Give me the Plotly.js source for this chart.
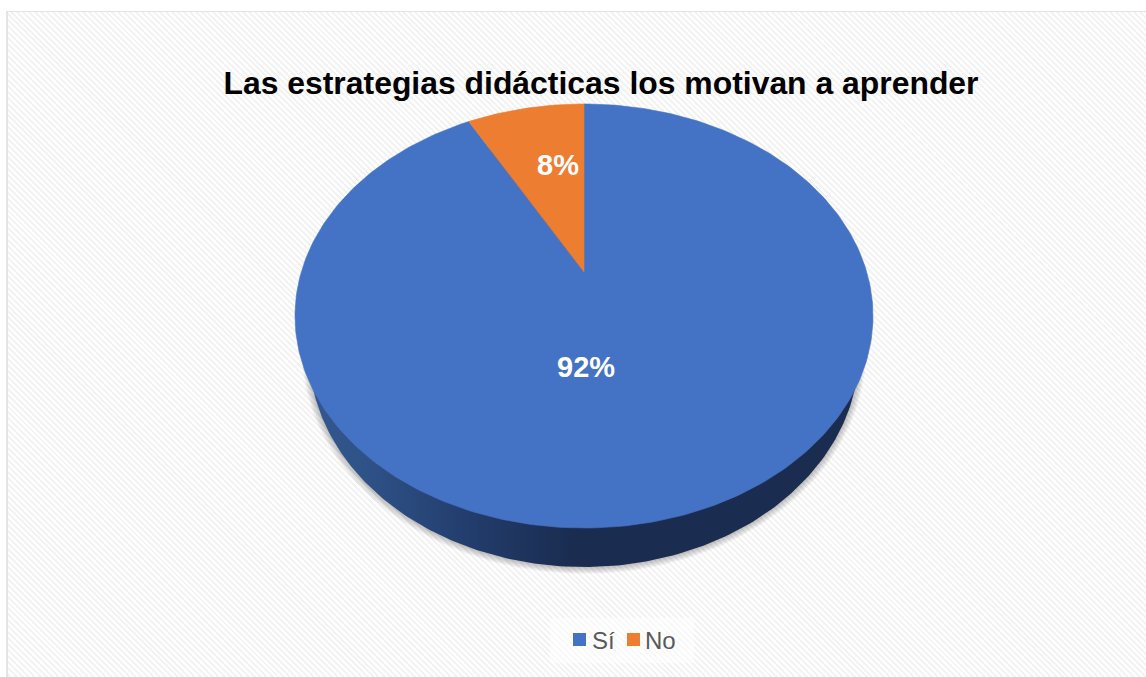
<!DOCTYPE html>
<html><head><meta charset="utf-8">
<script src="https://cdn.plot.ly/plotly-3.0.1.min.js"></script>
<style>
html,body{margin:0;padding:0;background:#fff;width:1146px;height:677px;overflow:hidden}
#frame{position:absolute;left:6px;top:11px;width:1160px;height:690px;border:2px solid #e4e4e4;border-width:1px 0 0 2px;
background:repeating-linear-gradient(45deg,#fff 0,#fff 2.1px,#f3f3f3 2.1px,#f3f3f3 4.2px)}
#chart{position:absolute;left:0;top:0;width:1146px;height:677px}
</style></head><body>
<div id="frame"></div><div id="chart"></div>
<script>
const categories = ['Sí', 'No'];
const values = [92, 8];
const labelText = ['92%', '8%'];
const colors = ['#4472c4', '#ed7d31'];
const titleText = 'Las estrategias didácticas los motivan a aprender';

// perspective view of the pie disc, in pixel-sized axis units
const apexX = 584, apexY = 272, halfW = 282.7, tiltB = 202.9, tiltK = 0.2075;
function project(theta) {           // theta clockwise from 12 o'clock
  const X = Math.sin(theta), Y = Math.cos(theta), d = 1 + tiltK * Y;
  return [apexX + halfW * X / d, apexY - tiltB * Y / d];
}
function slice(fromShare, toShare) {
  const xs = [apexX], ys = [apexY], n = Math.max(6, Math.round((toShare - fromShare) * 360));
  for (let i = 0; i <= n; i++) {
    const p = project(2 * Math.PI * (fromShare + (toShare - fromShare) * i / n));
    xs.push(p[0]); ys.push(p[1]);
  }
  xs.push(apexX); ys.push(apexY);
  return {xs, ys};
}
function ellipse(cx, cy, rx, ry) {
  const xs = [], ys = [];
  for (let i = 0; i <= 360; i++) {
    const a = i * Math.PI / 180;
    xs.push(cx + rx * Math.cos(a)); ys.push(cy + ry * Math.sin(a));
  }
  return {xs, ys};
}

const traces = [];
// soft shadow under the disc
[7, 6, 5, 4, 3, 2, 1].forEach(g => {
  const e = ellipse(584, 352, 275 + g, 215 + g);
  traces.push({type:'scatter', x:e.xs, y:e.ys, mode:'lines', line:{width:0}, fill:'toself',
    fillcolor:'rgba(0,0,0,0.035)', hoverinfo:'skip', showlegend:false});
});
// side wall
const wall = ellipse(584, 352, 275, 215);
traces.push({type:'scatter', x:wall.xs, y:wall.ys, mode:'lines', line:{width:0}, fill:'toself',
  fillgradient:{type:'horizontal', colorscale:[[0,'#33588f'],[0.1,'#2f5288'],[0.3,'#223c6b'],[0.48,'#1a2c50'],[1,'#1a2c50']]},
  hoverinfo:'skip', showlegend:false});
// slices
const total = values.reduce((a, b) => a + b, 0);
let running = 0;
values.forEach((v, i) => {
  const s = slice(running / total, (running + v) / total);
  running += v;
  traces.push({type:'scatter', x:s.xs, y:s.ys, mode:'lines', line:{width:0.6, color:colors[i]}, fill:'toself',
    fillcolor:colors[i], name:categories[i], hoverinfo:'name', showlegend:false});
});
// legend entries
categories.forEach((c, i) => traces.push({type:'scatter', x:[null], y:[null], mode:'markers', name:c,
  marker:{symbol:'square', size:13, color:colors[i]}}));

const layout = {
  width:1146, height:677, margin:{l:0, r:0, t:0, b:0},
  paper_bgcolor:'rgba(0,0,0,0)', plot_bgcolor:'rgba(0,0,0,0)',
  font:{family:'"Liberation Sans", Arial, sans-serif'},
  title:{text:'<b>' + titleText + '</b>', font:{size:31.9, color:'#000'}, x:601/1146, xanchor:'center', xref:'paper',
    y:1-83/677, yanchor:'middle', yref:'paper'},
  xaxis:{range:[0,1146], visible:false, fixedrange:true},
  yaxis:{range:[677,0], visible:false, fixedrange:true},
  showlegend:true,
  legend:{orientation:'h', x:622/1146, xanchor:'center', y:1-640/677, yanchor:'middle', font:{size:24, color:'#595959'},
    bgcolor:'rgba(255,255,255,0.5)', itemwidth:30, traceorder:'normal'},
  annotations:[
    {x:586, y:367, text:'<b>'+labelText[0]+'</b>', showarrow:false, font:{size:29, color:'#fff'}},
    {x:557.5, y:165, text:'<b>'+labelText[1]+'</b>', showarrow:false, font:{size:29, color:'#fff'}}
  ]
};
const markerLeft = [573, 627], textLeft = [593, 646];
Plotly.newPlot('chart', traces, layout, {displayModeBar:false, staticPlot:true}).then(() => {
  // tighten the legend's key-to-label gaps to the reference's
  document.querySelectorAll('.legend .traces').forEach((g, i) => {
    const p = g.querySelector('.legendpoints path'), t = g.querySelector('.legendtext');
    const dm = markerLeft[i] - p.getBoundingClientRect().left;
    p.setAttribute('transform', 'translate(' + (20 + dm) + ',0)');
    const dt = textLeft[i] - t.getBoundingClientRect().left - 1;
    t.setAttribute('x', parseFloat(t.getAttribute('x')) + dt);
  });
});
</script></body></html>
